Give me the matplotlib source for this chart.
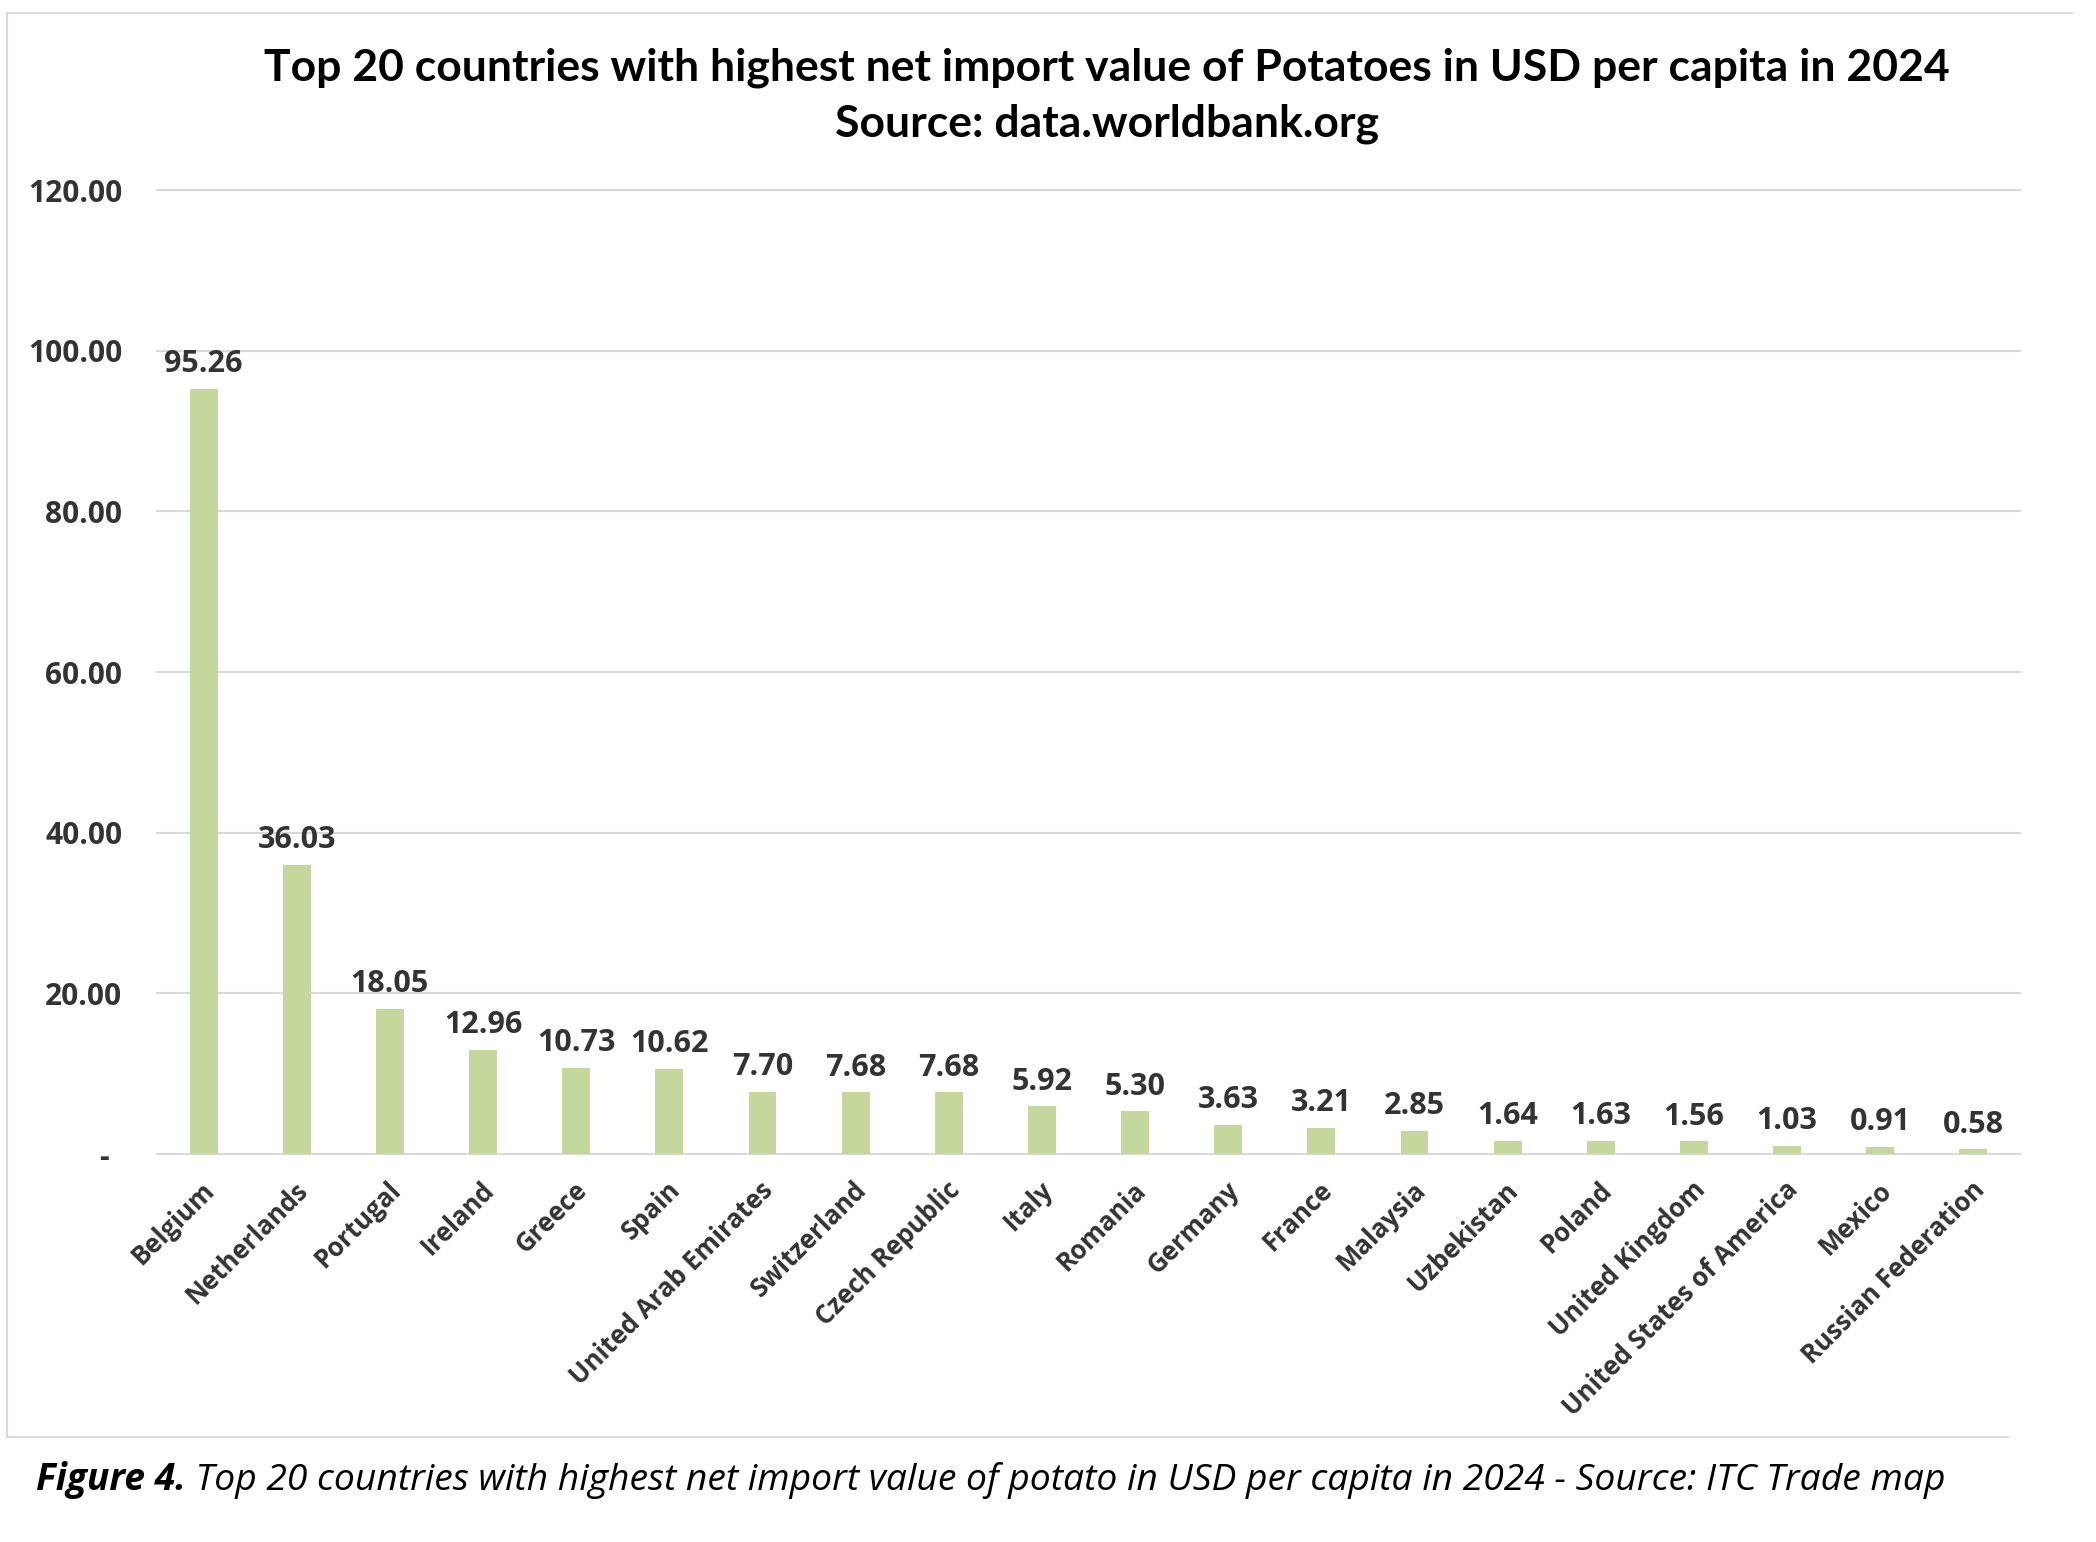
import matplotlib
matplotlib.use("Agg")
import matplotlib.pyplot as plt
import matplotlib.transforms as mtransforms
from matplotlib.lines import Line2D

# data
countries = ["Belgium", "Netherlands", "Portugal", "Ireland", "Greece", "Spain",
             "United Arab Emirates", "Switzerland", "Czech Republic", "Italy",
             "Romania", "Germany", "France", "Malaysia", "Uzbekistan", "Poland",
             "United Kingdom", "United States of America", "Mexico",
             "Russian Federation"]
values = [95.26, 36.03, 18.05, 12.96, 10.73, 10.62, 7.70, 7.68, 7.68, 5.92,
          5.30, 3.63, 3.21, 2.85, 1.64, 1.63, 1.56, 1.03, 0.91, 0.58]
y_ticks = [0, 20, 40, 60, 80, 100, 120]
y_labels = ["-", "20.00", "40.00", "60.00", "80.00", "100.00", "120.00"]

title_1 = "Top 20 countries with highest net import value of Potatoes in USD per capita in 2024"
title_2 = "Source: data.worldbank.org"
caption_bold = "Figure 4."
caption_rest = " Top 20 countries with highest net import value of potato in USD per capita in 2024 - Source: ITC Trade map"

bar_color = "#c5d79d"
grid_color = "#d9d9d9"
text_color = "#333333"

W, H = 2096, 1542
fig = plt.figure(figsize=(W / 100, H / 100), dpi=100)
fig.patch.set_facecolor("white")

"""
Main bar chart
"""
ax = fig.add_axes([157 / W, 1 - 1154 / H, (2020 - 157) / W, (1154 - 190) / H])
x = list(range(len(countries)))
bars = ax.bar(x, values, width=0.30, color=bar_color, zorder=3)

ax.set_xlim(-0.5, len(countries) - 0.5)
ax.set_ylim(0, 120)
ax.set_yticks(y_ticks)
ax.set_yticklabels(y_labels)
ax.yaxis.grid(True, color=grid_color, linewidth=1.5)
ax.set_axisbelow(True)
for gl in ax.get_ygridlines():
    gl.set_clip_on(False)
for s in ax.spines.values():
    s.set_visible(False)

ax.tick_params(axis="y", length=0, pad=25, labelsize=21.5, labelcolor=text_color)
ax.tick_params(axis="x", length=0, pad=23, labelsize=18.5, labelcolor=text_color)
for lab in ax.get_yticklabels():
    lab.set_fontweight("bold")
    lab.set_family("Open Sans")

ax.set_xticks(x)
ax.set_xticklabels(countries, rotation=45, ha="right", va="center",
                   rotation_mode="anchor", fontweight="bold", family="Open Sans")
shift = mtransforms.ScaledTranslation(7 / 100, 0, fig.dpi_scale_trans)
for lab in ax.get_xticklabels():
    lab.set_transform(lab.get_transform() + shift)

# the zero label sits a bit further left (accounting format)
zero_lab = ax.get_yticklabels()[0]
zero_lab.set_transform(zero_lab.get_transform() +
                       mtransforms.ScaledTranslation(-14 / 100, 0, fig.dpi_scale_trans))

ax.bar_label(bars, labels=[f"{v:.2f}" for v in values], padding=7, fontsize=22,
             fontweight="bold", color=text_color, family="Open Sans")

"""
Titles and caption
"""
fig.text(1107 / W, 1 - 80 / H, title_1, ha="center", va="baseline", fontsize=32,
         fontweight="bold", family="Lato", color="black")
fig.text(1107 / W, 1 - 137 / H, title_2, ha="center", va="baseline", fontsize=32,
         fontweight="bold", family="Lato", color="black")

t1 = fig.text(36 / W, 1 - 1490 / H, caption_bold, ha="left", va="baseline",
              fontsize=26.8, fontweight="bold", style="italic", family="Open Sans")
ax.annotate(caption_rest, xy=(1, 0), xycoords=t1, ha="left", va="bottom",
            fontsize=26.8, style="italic", family="Open Sans", annotation_clip=False)

# light frame round the chart area
frame = dict(color=grid_color, linewidth=1.5)
fig.add_artist(Line2D([7 / W, 7 / W], [1 - 13 / H, 1 - 1437 / H], **frame))
fig.add_artist(Line2D([7 / W, 2072 / W], [1 - 13 / H, 1 - 13 / H], **frame))
fig.add_artist(Line2D([7 / W, 2008 / W], [1 - 1437 / H, 1 - 1437 / H], **frame))

fig.savefig("out.png", dpi=100)
